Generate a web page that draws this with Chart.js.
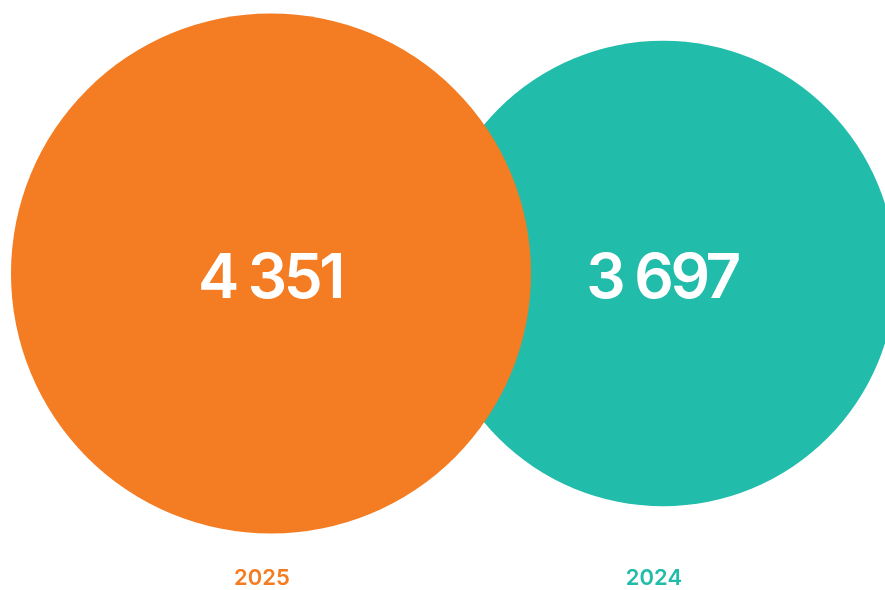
<!DOCTYPE html>
<html>
<head>
<meta charset="utf-8">
<script src="https://cdn.jsdelivr.net/npm/chart.js@4"></script>
<style>
  html, body { margin: 0; padding: 0; background: #ffffff; }
  #wrap { width: 885px; height: 590px; position: relative; }
</style>
</head>
<body>
<div id="wrap"><canvas id="chart"></canvas></div>
<script>
    // --- Data ---
    const years = ['2025', '2024'];
    const values = [4351, 3697];
    const slots = [0, 1];
    const colors = ['#f47c22', '#22bcab'];

    // --- Sizing ---
    const MAX_RADIUS = 260;
    const maxValue = Math.max(...values);
    const radiusFor = v => MAX_RADIUS * Math.pow(v / maxValue, 0.68);

    // first dataset is drawn on top
    const datasets = years.map((year, i) => ({
        label: year,
        data: [{ x: slots[i], y: 0, r: radiusFor(values[i]), v: values[i] }],
        backgroundColor: colors[i],
        hoverBackgroundColor: colors[i],
        borderWidth: 0,
        hoverBorderWidth: 0,
        hoverRadius: 0,
        clip: false
    }));

    const fmt = n => String(n).replace(/\B(?=(\d{3})+(?!\d))/g, ' ');

    const valueLabels = {
        id: 'valueLabels',
        afterDatasetsDraw(chart) {
            const ctx = chart.ctx;
            ctx.save();
            ctx.fillStyle = '#ffffff';
            ctx.font = '600 62px Inter, "Liberation Sans", sans-serif';
            ctx.letterSpacing = '-3.5px';
            ctx.textAlign = 'center';
            ctx.textBaseline = 'middle';
            chart.data.datasets.forEach((ds, i) => {
                const pt = chart.getDatasetMeta(i).data[0];
                ctx.fillText(fmt(ds.data[0].v), pt.x - 1, pt.y + 6);
            });
            ctx.restore();
        }
    };

    new Chart(document.getElementById('chart'), {
        type: 'bubble',
        data: { datasets },
        options: {
            responsive: true,
            maintainAspectRatio: false,
            animation: false,
            layout: { padding: 0, autoPadding: false },
            plugins: {
                legend: { display: false },
                tooltip: { enabled: false }
            },
            scales: {
                x: {
                    type: 'linear',
                    min: -0.6913,
                    max: 1.5664,
                    afterBuildTicks: axis => { axis.ticks = slots.map(s => ({ value: s })); },
                    grid: { display: false, drawTicks: false },
                    border: { display: false },
                    ticks: {
                        padding: 3,
                        labelOffset: -9,
                        autoSkip: false,
                        maxRotation: 0,
                        font: { family: 'Inter, "Liberation Sans", sans-serif', size: 22, weight: '600', lineHeight: 0.8 },
                        color: c => colors[c.index] || '#333',
                        callback: v => years[slots.indexOf(v)]
                    }
                },
                y: {
                    display: false,
                    min: -1,
                    max: 0.934
                }
            }
        },
        plugins: [valueLabels]
    });
</script>
</body>
</html>
